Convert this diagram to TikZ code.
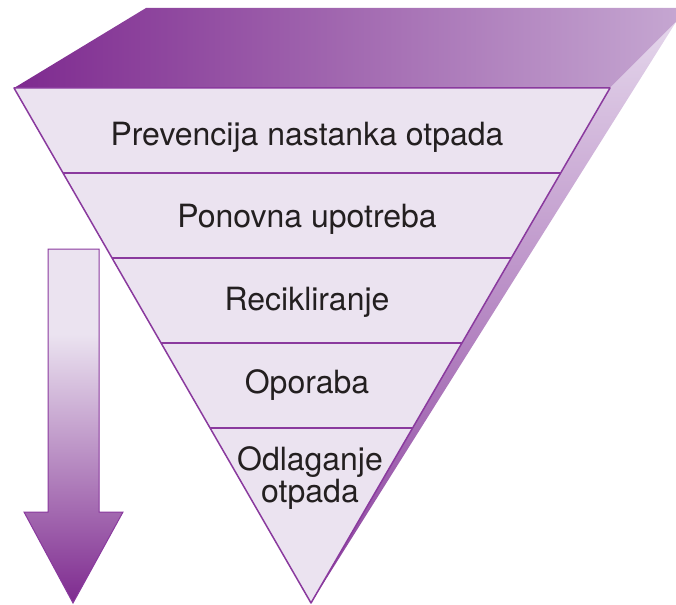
\documentclass[tikz,border=0pt]{standalone}
\usepackage{fontspec}
\setmainfont{TeX Gyre Heros}
\usepackage{xcolor}
\usepackage{tikz}
\usetikzlibrary{calc}

\definecolor{plum}{HTML}{7E2A8F}
\definecolor{lilac}{HTML}{C5A6D1}
\definecolor{pale}{HTML}{EBE3F0}
\definecolor{sidetop}{HTML}{E4D6EB}
\definecolor{sidebot}{HTML}{8A3E9D}
\definecolor{edge}{HTML}{8A3A9E}
\definecolor{ink}{HTML}{231F20}

% light at the top, darker towards the tip
\pgfdeclareverticalshading{downshade}{100bp}{color(0bp)=(plum); color(25bp)=(plum); color(63bp)=(pale); color(100bp)=(pale)}

\begin{document}
\begin{tikzpicture}[x=1pt,y=-1pt]
        \tikzstyle{every node} = [font=\fontsize{32}{29}\selectfont, text=ink, anchor=base, align=center]
        \tikzstyle{band} = [draw=edge, line width=2pt]
        \useasboundingbox (0,0) rectangle (676,604);
        \coordinate (tl) at (14,88);
        \coordinate (tr) at (610,88);
        \coordinate (bl) at (146,8);
        \coordinate (br) at (676,8);
        \coordinate (rc) at (676,22);
        \coordinate (tip) at (311,603);
        % top and side faces
        \shade[left color=plum, right color=lilac] (tl) -- (bl) -- (br) -- (rc) -- (tr) -- cycle;
        \shade[top color=sidetop, bottom color=sidebot] (tr) -- (rc) -- (tip) -- cycle;
        % front face
        \fill[pale] (tl) -- (tr) -- (tip) -- cycle;
        \foreach \t in {0.165, 0.33, 0.495, 0.66}
            \draw[band] ($(tl)!\t!(tip)$) -- ($(tr)!\t!(tip)$);
        \draw[edge, line width=1.5pt, line join=round] (tl) -- (tr) -- (tip) -- cycle;
        \node (a) at (307,146) {Prevencija nastanka otpada};
        \node (b) at (307,227) {Ponovna upotreba};
        \node (c) at (307,310) {Recikliranje};
        \node (d) at (307,393) {Oporaba};
        \node (e) at (310,502) {Odlaganje\\otpada};
        % arrow on the left
        \shade[shading=downshade, draw=edge, line width=1pt]
            (48,249) -- (99,249) -- (99,512) -- (123,512) -- (73,603)
            -- (24,512) -- (48,512) -- cycle;
    \end{tikzpicture}
\end{document}
